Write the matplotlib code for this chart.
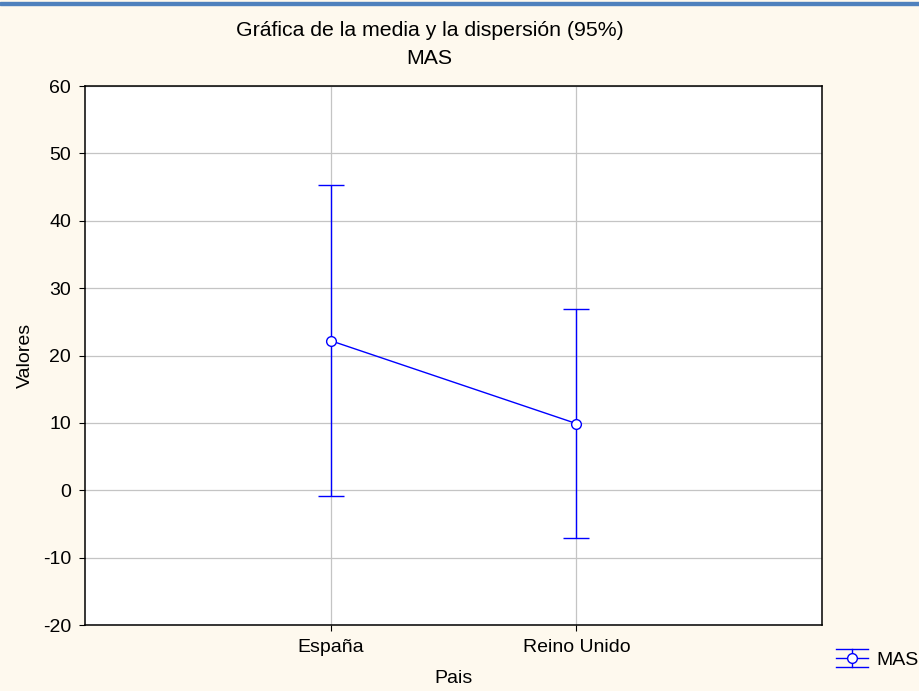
import matplotlib.pyplot as plt
from matplotlib.patches import Rectangle
from matplotlib.lines import Line2D
from matplotlib.legend_handler import HandlerBase

plt.rcParams["font.family"] = ["Liberation Sans", "DejaVu Sans"]
plt.rcParams["axes.unicode_minus"] = False

paises = ["España", "Reino Unido"]
medias = [22.2, 9.9]
errores = [23.1, 17.0]
y_ticks = [-20, -10, 0, 10, 20, 30, 40, 50, 60]

bg = "#fef9ee"
azul = "#0000ff"


class HandlerMedia(HandlerBase):
    # legend symbol: mean marker with full-width caps above and below
    def create_artists(self, legend, orig_handle, xdescent, ydescent,
                       width, height, fontsize, trans):
        cy = height / 2 - ydescent
        x0, x1 = -xdescent, width - xdescent
        xm = (x0 + x1) / 2
        h = 0.48 * fontsize
        arts = [
            Line2D([x0, x1], [cy + h, cy + h]),
            Line2D([x0, x1], [cy - h, cy - h]),
            Line2D([x0, x1], [cy, cy]),
            Line2D([xm, xm], [cy - h, cy + h]),
            Line2D([xm], [cy], marker="o", markersize=7, markerfacecolor="white",
                   markeredgecolor=azul, markeredgewidth=1.0, linestyle="none"),
        ]
        for a in arts[:4]:
            a.set_color(azul)
            a.set_linewidth(1.0)
        for a in arts:
            a.set_transform(trans)
        return arts


fig = plt.figure(figsize=(9.2, 6.91), dpi=100, facecolor=bg)
ax = fig.add_axes([0.0924, 0.0955, 0.8011, 0.78])
ax.set_facecolor("white")

# blue strip at the top of the page
fig.patches.append(Rectangle((0, 0.9925), 1, 0.005, transform=fig.transFigure,
                             color="#4f81bd", zorder=5))

x = [1, 2]
eb = ax.errorbar(x, medias, yerr=errores, color=azul, lw=1.0, marker="o",
                 markersize=7, markerfacecolor="white", markeredgecolor=azul,
                 markeredgewidth=1.0, capsize=9.5, capthick=1.0, ecolor=azul,
                 label="MAS", zorder=3)

ax.set_xlim(0, 3)
ax.set_ylim(-20, 60)
ax.set_xticks(x)
ax.set_xticklabels(paises)
ax.set_yticks(y_ticks)
ax.grid(True, color="#c4c4c4", lw=0.9)
ax.set_axisbelow(True)
ax.tick_params(labelsize=14, length=4, color="black", pad=6)
for s in ax.spines.values():
    s.set_linewidth(1.1)

ax.set_xlabel("Pais", fontsize=14, labelpad=10)
ax.set_ylabel("Valores", fontsize=14, labelpad=6.5)

fig.text(0.467, 0.956, "Gráfica de la media y la dispersión (95%)", ha="center",
         va="center", fontsize=15.3)
fig.text(0.467, 0.916, "MAS", ha="center", va="center", fontsize=15.3)

fig.legend([eb], ["MAS"], handler_map={type(eb): HandlerMedia()},
           loc="center left", bbox_to_anchor=(0.9087, 0.045), frameon=False,
           fontsize=14, handlelength=1.65, handletextpad=0.45,
           borderpad=0, borderaxespad=0)

fig.savefig("out.png", dpi=100, facecolor=bg)
